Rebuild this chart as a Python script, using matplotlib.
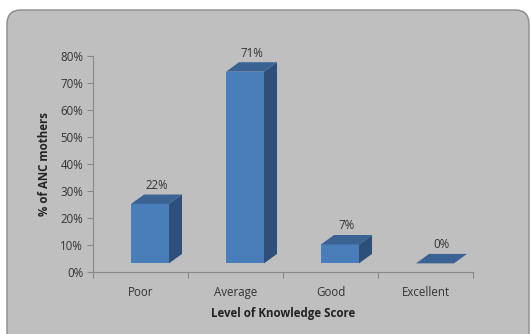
import matplotlib
matplotlib.use("Agg")
import matplotlib.pyplot as plt
from matplotlib.patches import Polygon, FancyBboxPatch
from matplotlib.ticker import FixedLocator

categories = ["Poor", "Average", "Good", "Excellent"]
values = [22, 71, 7, 0]
y_ticks = [0, 10, 20, 30, 40, 50, 60, 70, 80]

plt.rcParams["font.family"] = ["Open Sans", "DejaVu Sans"]

W, H = 530, 334
fig = plt.figure(figsize=(W / 100, H / 100), dpi=100)
fig.patch.set_facecolor("white")

# rounded gray chart area (runs off the bottom edge like the original)
bg_ax = fig.add_axes([0, 0, 1, 1], zorder=0)
bg_ax.set_xlim(0, W)
bg_ax.set_ylim(0, H)
bg_ax.axis("off")
bg_ax.add_patch(FancyBboxPatch((7, -20), 522, H - 10 + 20,
                               boxstyle="round,pad=0,rounding_size=14",
                               facecolor="#BFBFBF", edgecolor="#8A8A8A",
                               linewidth=1.0))

ax = fig.add_axes([93 / W, (H - 272) / H, 380 / W, 216 / H], zorder=1)
ax.set_facecolor("none")
ax.set_xlim(0.5, 4.5)
ax.set_ylim(0, 80)

front_c = "#4A7EBB"
top_c = "#3A6394"
side_c = "#2E4F7A"

base = 3.2      # 3D floor offset, in % units
dx, dy = 0.137, 3.5   # depth offset
w = 0.4
fs = 8.3
for i, v in enumerate(values):
    x0 = i + 1 - 0.1
    x1 = x0 + w
    y0 = base
    y1 = base + v
    if v > 0:
        ax.add_patch(Polygon([(x0, y0), (x1, y0), (x1, y1), (x0, y1)],
                             closed=True, facecolor=front_c, edgecolor="none"))
        ax.add_patch(Polygon([(x1, y0), (x1 + dx, y0 + dy), (x1 + dx, y1 + dy), (x1, y1)],
                             closed=True, facecolor=side_c, edgecolor="none"))
    ax.add_patch(Polygon([(x0, y1), (x1, y1), (x1 + dx, y1 + dy), (x0 + dx, y1 + dy)],
                         closed=True, facecolor=top_c, edgecolor="none"))
    ax.text((x0 + x1 + dx) / 2, y1 + dy + 1.0, f"{v}%", ha="center", va="bottom",
            fontsize=fs, color="#333333")

for s in ["top", "right"]:
    ax.spines[s].set_visible(False)
for s in ["left", "bottom"]:
    ax.spines[s].set_color("#888888")
    ax.spines[s].set_linewidth(0.8)

ax.set_yticks(y_ticks)
ax.set_yticklabels([f"{t}%" for t in y_ticks])
ax.tick_params(axis="y", length=4, width=0.8, color="#888888", labelsize=fs,
               labelcolor="#333333", pad=3)

ax.set_xticks([1, 2, 3, 4])
ax.set_xticklabels(categories)
ax.tick_params(axis="x", which="major", length=0, labelsize=fs,
               labelcolor="#333333", pad=10)
ax.xaxis.set_minor_locator(FixedLocator([0.5, 1.5, 2.5, 3.5, 4.5]))
ax.tick_params(axis="x", which="minor", length=4, width=0.8, color="#888888")

ax.set_xlabel("Level of Knowledge Score", fontsize=fs, fontweight="bold",
              color="#222222", labelpad=6)
ax.set_ylabel("% of ANC mothers", fontsize=fs, fontweight="bold",
              color="#222222", labelpad=7)

fig.savefig("out.png", dpi=100)
